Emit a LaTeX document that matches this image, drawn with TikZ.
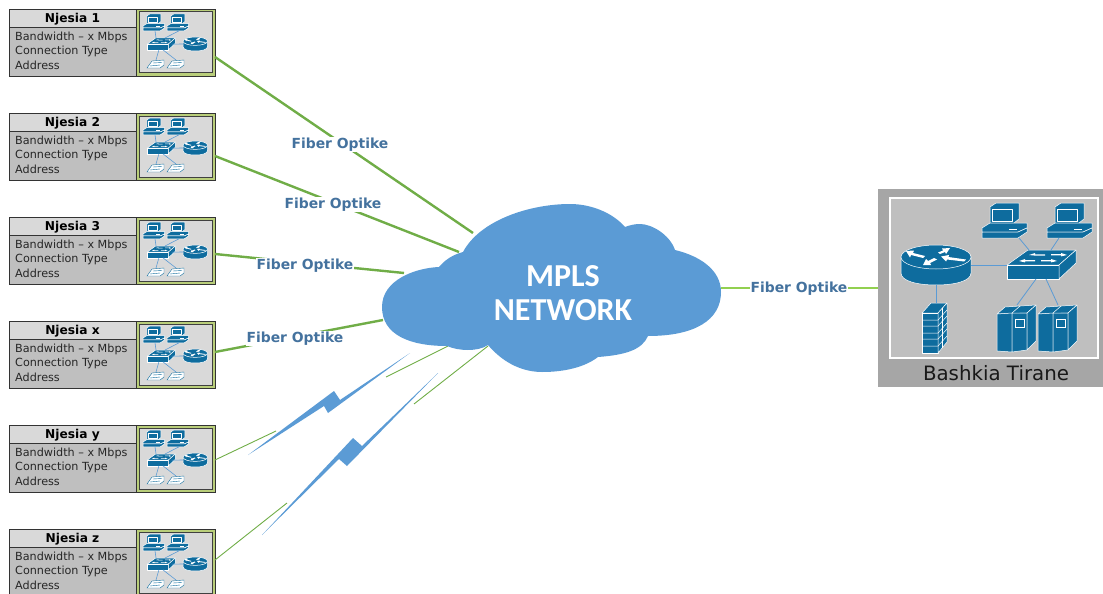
\documentclass[tikz,border=0pt]{standalone}
\usepackage{xcolor}
\usepackage{fontspec}
\setmainfont{DejaVu Sans}
\newfontfamily\cloudfont{Carlito}
\usepackage{tikz}
\usetikzlibrary{calc}
\definecolor{iconblue}{HTML}{0E6C9E}
\definecolor{cloudblue}{HTML}{5B9BD5}
\definecolor{linkgreen}{HTML}{70AD47}
\definecolor{rightgreen}{HTML}{92D050}
\definecolor{framegreen}{HTML}{B9CE7A}
\definecolor{labelblue}{HTML}{44729E}
\tikzset{
  iconbody/.style={fill=iconblue,draw=white,line width=.5pt,line join=round},
  iconlink/.style={draw=cloudblue,line width=.8pt},
  smalllink/.style={draw=cloudblue,line width=.6pt},
  fiberlabel/.style={fill=white,text=labelblue,font=\bfseries\fontsize{13.9}{16}\selectfont,inner sep=1pt},
  thicklink/.style={draw=linkgreen,line width=2.4pt},
  thinlink/.style={draw=linkgreen,line width=.9pt},
  bodytext/.style={anchor=west,inner sep=0pt,text=black!85,font=\fontsize{11.2}{13}\selectfont},
  % computer
  pics/pcicon/.style={code={
    \path[iconbody] (8,4) -- (14,0) -- (37,0) -- (37,16) -- (32,20) -- (8,20) -- cycle;
    \path[iconbody] (10,6) rectangle (30,18);
    \path[iconbody] (0,25) -- (8,20) -- (45,20) -- (45,25) -- (36,29) -- (0,29) -- cycle;
    \path[iconbody] (0,29) -- (36,29) -- (45,25) -- (45,29) -- (36,35) -- (0,35) -- cycle;
    \fill[white] (27,26) rectangle (35,27.2);
    \coordinate (-s) at (37,35);
    \coordinate (-sl) at (12,35);
    \coordinate (-sm) at (25,35);
  }},
  % switch
  pics/switchicon/.style={code={
    \path[iconbody] (0,15) -- (21,0) -- (69,0) -- (52,15) -- cycle;
    \path[iconbody] (0,15) rectangle (52,29);
    \path[iconbody] (52,15) -- (69,0) -- (69,13) -- (52,29) -- cycle;
    \fill[white] (22,5) -- (28,3) -- (28,4.3) -- (38,4.3) -- (38,5.5) -- (27,5.5) -- cycle;
    \fill[white] (44,4) -- (54,4) -- (54,3) -- (60,5) -- (54,6.4) -- (54,5.3) -- (44,5.3) -- cycle;
    \fill[white] (12,11) -- (18,9) -- (18,10) -- (28,10) -- (28,11.3) -- (18,11.3) -- (18,12.4) -- cycle;
    \fill[white] (34,10) -- (44,10) -- (44,9) -- (50,11) -- (44,12.4) -- (44,11.3) -- (34,11.3) -- cycle;
    \coordinate (-n1) at (22,0);
    \coordinate (-n2) at (44,0);
    \coordinate (-w) at (0,15);
    \coordinate (-e) at (60,15);
    \coordinate (-s1) at (29,29);
    \coordinate (-s2) at (39,29);
  }},
  % router
  pics/routericon/.style={code={
    \path[iconbody] (0,12) -- (0,28) .. controls (0,36) and (16,40) .. (35,40)
      .. controls (54,40) and (70,36) .. (70,28) -- (70,12) -- cycle;
    \path[iconbody] (35,12) ellipse (35 and 12);
    \fill[white] (5,6) -- (13,5.5) -- (12,8) -- (24,11) -- (22,13) -- (10,10) -- (9,12.5) -- cycle;
    \fill[white] (49,3) -- (41,3.5) -- (42,5.5) -- (37,7.5) -- (39,9) -- (44,7) -- (45,9) -- cycle;
    \fill[white] (22,20) -- (30,20) -- (29,18) -- (36,14.5) -- (33,13) -- (27,16) -- (25,14) -- cycle;
    \fill[white] (40,11.5) -- (48,10) -- (47.5,12) -- (65,14.5) -- (63,16.5) -- (46,14.5) -- (45,16.5) -- cycle;
    \coordinate (-w) at (0,20);
    \coordinate (-e) at (70,20);
    \coordinate (-s) at (35,40);
  }},
  % firewall
  pics/wallicon/.style={code={
    \path[iconbody] (0,10) -- (9,0) -- (25,0) -- (16,10) -- cycle;
    \path[iconbody] (0,10) rectangle (16,50);
    \path[iconbody] (16,10) -- (25,0) -- (25,39) -- (16,50) -- cycle;
    \foreach \yy in {17,23,30,36,43} {
      \draw[white,line width=.5pt] (0,\yy) -- (16,\yy) -- (25,\yy-10);
    }
    \draw[white,line width=.5pt] (20,5) -- (20,45);
    \coordinate (-n) at (14,0);
  }},
  % server
  pics/servericon/.style={code={
    \path[iconbody] (0,9) -- (8,2) -- (39,0) -- (30,8) -- cycle;
    \path[iconbody] (0,9) -- (15,8) -- (15,47) -- (0,46) -- cycle;
    \path[iconbody] (15,8) -- (30,8) -- (30,45) -- (15,47) -- cycle;
    \path[iconbody] (30,8) -- (39,0) -- (39,36) -- (30,45) -- cycle;
    \draw[white,line width=.6pt] (18,14) rectangle (27,22);
    \draw[white,line width=.5pt] (15,8) -- (23,1);
    \coordinate (-n) at (20,0);
  }},
  % handset
  pics/handicon/.style={code={
    \path[fill=white,draw=iconblue,line width=.4pt] (0,8) -- (5,1) -- (17,0) -- (17,5) -- (13,8) -- cycle;
    \draw[iconblue,line width=.4pt] (3,6) -- (13,5) (6,3) -- (15,2.5);
    \coordinate (-n) at (9,0);
  }},
  % unit box with its small network
  pics/unitbox/.style 2 args={code={
    \draw[fill=black!15,draw=black!80,line width=.8pt] (0,0) rectangle (127,18);
    \draw[fill=black!25,draw=black!80,line width=.8pt] (0,18) rectangle (127,67);
    \draw[fill=framegreen,draw=black!80,line width=.6pt] (127,0) rectangle (206,67);
    \draw[fill=black!15,draw=black!75,line width=1pt] (130,3) rectangle (203,64);
    \node[font=\bfseries\fontsize{12.2}{14}\selectfont,inner sep=0pt] (-title) at (63.5,10) {#1};
    \node[bodytext] (-bw) at (6,28) {Bandwidth -- x Mbps};
    \node[bodytext] (-ct) at (6,42) {Connection Type};
    \node[bodytext] (-ad) at (6,56) {Address};
    \pic[scale=.48] (-pa) at (134,5) {pcicon};
    \pic[scale=.48] (-pb) at (158,5) {pcicon};
    \pic[scale=.41] (-sw) at (138,29) {switchicon};
    \pic[scale=.35] (-ro) at (174,28) {routericon};
    \pic (-ha) at (138,51) {handicon};
    \pic (-hb) at (158,51) {handicon};
    \draw[smalllink] (-pa-sm) -- (-sw-n1);
    \draw[smalllink] (-pb-sm) -- (-sw-n2);
    \draw[smalllink] (-sw-e) -- (-ro-w);
    \draw[smalllink] (-sw-s1) -- (-ha-n);
    \draw[smalllink] (-sw-s2) -- (-hb-n);
    \coordinate (-port) at (206,#2);
  }}
}
\begin{document}
\begin{tikzpicture}[x=1pt,y=-1pt]
  \useasboundingbox (0,0) rectangle (1103,594);

  % the units on the left
  \foreach \uname/\ypos/\utitle/\uport in {na/9/Njesia 1/48,nb/113/Njesia 2/43,nc/217/Njesia 3/37,nd/321/Njesia x/31,ne/425/Njesia y/35,nf/529/Njesia z/31} {
    \pic (\uname) at (9,\ypos) {unitbox={\utitle}{\uport}};
  }

  % points on the cloud
  \coordinate (ca) at (473,233);
  \coordinate (cb) at (459,252);
  \coordinate (cc) at (404,273);
  \coordinate (cd) at (383,320);
  \coordinate (ce) at (448,346);
  \coordinate (cf) at (488,346);
  \coordinate (cr) at (721,288);
  \coordinate (ta) at (878,288);

  % free ends of the radio links
  \coordinate (ea) at (276,431);
  \coordinate (eb) at (386,377);
  \coordinate (ec) at (287,503);
  \coordinate (ed) at (414,404);

  % green links
  \draw[thicklink] (na-port) -- (ca);
  \draw[thicklink] (nb-port) -- (cb);
  \draw[thicklink] (nc-port) -- (cc);
  \draw[thicklink] (nd-port) -- (cd);
  \draw[thinlink] (ne-port) -- (ea);
  \draw[thinlink] (eb) -- (ce);
  \draw[thinlink] (nf-port) -- (ec);
  \draw[thinlink] (ed) -- (cf);
  \draw[draw=rightgreen,line width=2.4pt] (cr) -- (ta);

  % the cloud
  \fill[cloudblue] (439,267) .. controls (415,268) and (382,280) .. (382,307)
    .. controls (382,335) and (410,346) .. (447,346)
    .. controls (458,351) and (478,352) .. (488,345)
    .. controls (505,365) and (525,372) .. (542,372)
    .. controls (565,372) and (585,367) .. (598,357)
    .. controls (625,355) and (642,350) .. (648,336)
    .. controls (695,336) and (721,320) .. (721,292)
    .. controls (721,270) and (700,256) .. (675,250)
    .. controls (670,235) and (652,224) .. (640,224)
    .. controls (635,224) and (630,225) .. (625,227)
    .. controls (612,212) and (590,204) .. (570,204)
    .. controls (530,204) and (480,220) .. (463,252)
    .. controls (452,255) and (445,260) .. (439,267) -- cycle;
  \node[text=white,font=\cloudfont\bfseries\fontsize{32}{34}\selectfont,align=center,inner sep=0pt] (cloudlabel) at (563,293) {MPLS\\NETWORK};

  % lightning
  \fill[cloudblue] (248,455) -- (324,406) -- (328,413) -- (410,353) -- (340,400) -- (334,391) -- cycle;
  \fill[cloudblue] (262,535) -- (339,459) -- (347,466) -- (438,373) -- (362,446) -- (353,438) -- cycle;

  % labels on the links
  \node[fiberlabel] (la) at (340,144.5) {Fiber Optike};
  \node[fiberlabel] (lb) at (333,204.5) {Fiber Optike};
  \node[fiberlabel] (lc) at (305,265.5) {Fiber Optike};
  \node[fiberlabel] (ld) at (295,338.5) {Fiber Optike};
  \node[fiberlabel] (le) at (799,288.5) {Fiber Optike};

  % Bashkia Tirane panel
  \fill[black!35] (878,189) rectangle (1103,387);
  \draw[fill=black!25,draw=white,line width=2.6pt] (890,198) rectangle (1098,358);
  \node[inner sep=0pt,text=black!90,font=\fontsize{19.8}{22}\selectfont] (panelname) at (996,373) {Bashkia Tirane};

  \pic (rt) at (901,245) {routericon};
  \pic (swt) at (1007,250) {switchicon};
  \pic (pca) at (982,203) {pcicon};
  \pic (pcb) at (1047,203) {pcicon};
  \pic (fw) at (922,303) {wallicon};
  \pic (sva) at (997,305) {servericon};
  \pic (svb) at (1038,305) {servericon};

  \draw[iconlink] (rt-e) -- (swt-w);
  \draw[iconlink] (rt-s) -- (fw-n);
  \draw[iconlink] (pca-s) -- (swt-n1);
  \draw[iconlink] (pcb-sl) -- (swt-n2);
  \draw[iconlink] (swt-s1) -- (sva-n);
  \draw[iconlink] (swt-s2) -- (svb-n);
\end{tikzpicture}
\end{document}
